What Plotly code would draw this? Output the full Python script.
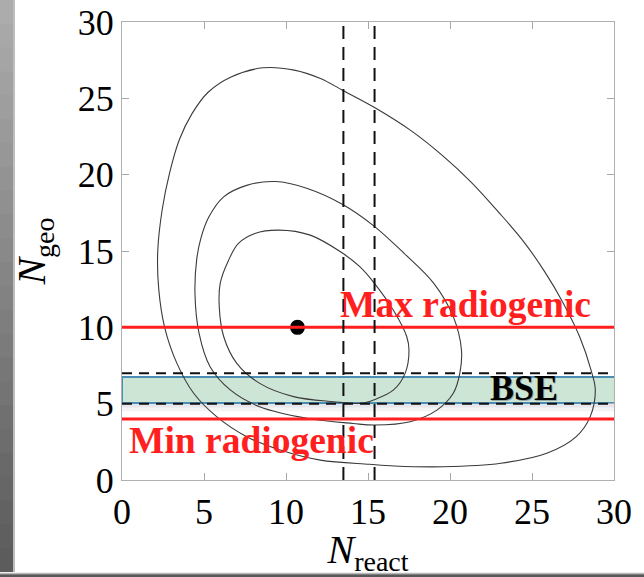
import plotly.graph_objects as go

# ---------------- data ----------------
outer_x = [8.6, 10.5, 12.1, 13.5, 15.4, 17.6, 19.6, 21.3, 23.0, 24.5, 25.8, 26.9, 27.9, 28.6, 28.86,
           28.55, 27.7, 25.9, 23.1, 19.6, 16.6, 15.1, 12.1, 9.65, 7.6, 5.77, 4.37, 3.35, 2.6, 2.24,
           2.18, 2.45, 2.9, 3.5, 4.27, 5.25, 6.65, 8.6]
outer_y = [27.0, 26.85, 26.3, 25.5, 24.4, 22.9, 21.2, 19.5, 17.5, 15.6, 13.6, 11.6, 9.4, 7.2, 5.9,
           4.15, 2.84, 1.75, 1.1, 0.87, 0.92, 1.03, 1.3, 1.96, 2.84, 4.15, 5.68, 7.64, 10.0, 12.5,
           15.0, 17.7, 20.1, 22.3, 24.0, 25.4, 26.4, 27.0]

middle_x = [9.35, 11.3, 13.46, 15.35, 17.2, 19.0, 20.2, 20.7, 20.6, 20.2, 19.2, 17.57, 15.4,
            14.1, 11.28, 8.4, 6.6, 5.38, 4.7, 4.45, 4.55, 4.8, 5.3, 6.2, 7.6, 9.35]
middle_y = [19.55, 19.1, 18.05, 16.65, 14.85, 12.9, 10.7, 8.5, 7.0, 5.68, 4.58, 3.82, 3.6,
            3.7, 4.04, 4.8, 5.9, 7.4, 9.6, 12.2, 14.4, 15.8, 17.24, 18.55, 19.3, 19.55]

inner_x = [9.55, 11.48, 13.46, 14.5, 15.38, 16.56, 17.36, 17.5, 17.27, 16.56, 15.38, 14.53, 12.9,
           10.46, 8.4, 7.0, 6.2, 5.93, 5.99, 6.5, 7.1, 8.1, 9.55]
inner_y = [16.37, 16.04, 14.85, 13.97, 12.9, 11.1, 9.4, 8.5, 7.0, 5.9, 5.26, 5.02, 5.13,
           5.46, 6.33, 7.64, 9.4, 11.35, 12.9, 14.4, 15.5, 16.15, 16.37]

best_fit_x = [10.7]
best_fit_y = [10.0]

max_radiogenic = 10.0
min_radiogenic = 4.0
bse_dashed = [5.0, 7.0]
bse_box = [5.05, 6.75]
react_dashed = [13.5, 15.4]

axis_range = [0, 30]
tick_vals = [0, 5, 10, 15, 20, 25, 30]
tick_text = ["0", "5", "10", "15", "20", "25", "30"]

# ---------------- layout geometry ----------------
W, H = 644, 577
ML, MR, MT, MB = 122, 30, 22, 97
PW, PH = W - ML - MR, H - MT - MB


def px_x(p):
    return (p - ML) / PW


def px_y(p):
    return (H - MB - p) / PH


RED = "#ff1f1f"
SERIF = "Liberation Serif"

fig = go.Figure()

# contours
for xs, ys in [(outer_x, outer_y), (middle_x, middle_y), (inner_x, inner_y)]:
    fig.add_trace(go.Scatter(x=xs, y=ys, mode="lines",
                             line=dict(color="#3a3a3a", width=1.1, shape="spline", smoothing=1.0),
                             hoverinfo="skip", showlegend=False))

# best fit point
fig.add_trace(go.Scatter(x=best_fit_x, y=best_fit_y, mode="markers",
                         marker=dict(color="black", size=15), showlegend=False))

shapes = []
# BSE box shadow
shapes.append(dict(type="rect", xref="x", yref="y", x0=0, x1=30.1, y0=bse_box[0] - 0.3, y1=bse_box[0],
                   fillcolor="rgba(110,120,150,0.18)", line=dict(width=0), layer="below"))
shapes.append(dict(type="rect", xref="x", yref="y", x0=0, x1=30.1, y0=bse_box[0] - 0.55, y1=bse_box[0] - 0.3,
                   fillcolor="rgba(110,120,150,0.08)", line=dict(width=0), layer="below"))
# BSE box
shapes.append(dict(type="rect", xref="x", yref="y", x0=0, x1=30.1, y0=bse_box[0], y1=bse_box[1],
                   fillcolor="#cce5d5", line=dict(color="#4a8db5", width=2), layer="below"))
# red lines
for yv in [max_radiogenic, min_radiogenic]:
    shapes.append(dict(type="line", xref="x", yref="y", x0=0, x1=30, y0=yv, y1=yv,
                       line=dict(color=RED, width=3)))
# dashed lines
for yv in bse_dashed:
    shapes.append(dict(type="line", xref="x", yref="y", x0=0, x1=30, y0=yv, y1=yv,
                       line=dict(color="#111111", width=2, dash="10px,7px")))
for xv in react_dashed:
    shapes.append(dict(type="line", xref="x", yref="y", x0=xv, x1=xv, y0=0, y1=30,
                       line=dict(color="#111111", width=2, dash="13px,8px")))

# gray window edges (left gradient strip, bottom strip)
n = 24
top_c, bot_c = (172, 172, 172), (92, 92, 92)
for i in range(n):
    t = i / (n - 1)
    c = tuple(int(top_c[k] + (bot_c[k] - top_c[k]) * t) for k in range(3))
    y0p = 572 * i / n
    y1p = min(572, 572 * (i + 1) / n + 2)
    shapes.append(dict(type="rect", xref="paper", yref="paper",
                       x0=px_x(0), x1=px_x(13), y0=px_y(y1p), y1=px_y(y0p),
                       fillcolor="rgb(%d,%d,%d)" % c, line=dict(width=0)))
shapes.append(dict(type="rect", xref="paper", yref="paper",
                   x0=px_x(13), x1=px_x(15), y0=px_y(572), y1=px_y(0),
                   fillcolor="#bdbdbd", line=dict(width=0)))
shapes.append(dict(type="rect", xref="paper", yref="paper",
                   x0=px_x(0), x1=px_x(W), y0=px_y(574.3), y1=px_y(572.7),
                   fillcolor="#b8b8b8", line=dict(width=0)))
shapes.append(dict(type="rect", xref="paper", yref="paper",
                   x0=px_x(0), x1=px_x(W), y0=px_y(577), y1=px_y(574.3),
                   fillcolor="#585858", line=dict(width=0)))

annotations = [
    dict(x=13.2, y=max_radiogenic, xref="x", yref="y", xanchor="left", yanchor="bottom",
         text="<b>Max radiogenic</b>", showarrow=False, yshift=0,
         font=dict(family=SERIF, size=37.5, color=RED)),
    dict(x=0.3, y=min_radiogenic, xref="x", yref="y", xanchor="left", yanchor="top",
         text="<b>Min radiogenic</b>", showarrow=False, yshift=1,
         font=dict(family=SERIF, size=37.5, color=RED)),
    dict(x=24.5, y=6.05, xref="x", yref="y", xanchor="center", yanchor="middle",
         text="<b>BSE</b>", showarrow=False, xshift=1.5, yshift=-1.5,
         font=dict(family=SERIF, size=36, color="rgba(90,90,90,0.45)")),
    dict(x=24.5, y=6.05, xref="x", yref="y", xanchor="center", yanchor="middle",
         text="<b>BSE</b>", showarrow=False,
         font=dict(family=SERIF, size=36, color="black")),
]

axis_common = dict(range=axis_range, tickmode="array", tickvals=tick_vals, ticktext=tick_text,
                   ticks="inside", ticklen=7, tickcolor="#a8a8a8", tickwidth=1,
                   showline=True, linecolor="#b0b0b0", linewidth=1, mirror="ticks",
                   showgrid=False, zeroline=False,
                   tickfont=dict(family=SERIF, size=36, color="black"))

fig.update_layout(
    width=W, height=H,
    margin=dict(l=ML, r=MR, t=MT, b=MB, autoexpand=False),
    paper_bgcolor="white", plot_bgcolor="white",
    shapes=shapes, annotations=annotations, showlegend=False,
    xaxis=dict(**axis_common,
               title=dict(text="<i>N</i><sub>react</sub>", standoff=11,
                          font=dict(family=SERIF, size=40, color="black"))),
    yaxis=dict(**axis_common,
               title=dict(text="<i>N</i><sub>geo</sub>", standoff=19,
                          font=dict(family=SERIF, size=40, color="black"))),
)

fig.write_html("out.html")
